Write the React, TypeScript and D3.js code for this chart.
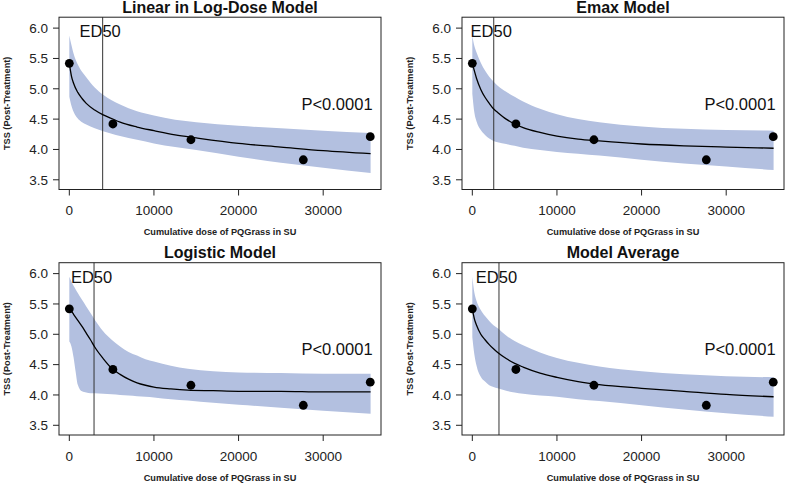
import React from "react";
import * as d3 from "d3";

// ---------- data ----------
const obsDose = [0, 5150, 14370, 27650, 35560];
const obsTSS = [5.42, 4.42, 4.16, 3.83, 4.21];

const xTickValues = [0, 10000, 20000, 30000];
const yTickValues = [3.5, 4.0, 4.5, 5.0, 5.5, 6.0];

const panelTitles = ["Linear in Log-Dose Model", "Emax Model", "Logistic Model", "Model Average"];
const ed50Values = [3940, 2530, 2920, 3150];
const pValueLabels = ["P<0.0001", "P<0.0001", "P<0.0001", "P<0.0001"];

const linDose = [0, 250, 500, 1000, 1500, 2000, 3000, 4000, 5000, 6000, 8000, 10000, 12500, 15000, 20000, 25000, 30000, 35600];
const linMean = [5.42, 5.21, 5.09, 4.94, 4.84, 4.76, 4.65, 4.57, 4.51, 4.45, 4.37, 4.31, 4.24, 4.19, 4.10, 4.04, 3.98, 3.93];
const linUpper = [5.88, 5.72, 5.58, 5.40, 5.28, 5.19, 5.02, 4.90, 4.81, 4.74, 4.63, 4.56, 4.49, 4.45, 4.39, 4.35, 4.31, 4.27];
const linLower = [4.87, 4.72, 4.62, 4.51, 4.45, 4.41, 4.35, 4.30, 4.26, 4.22, 4.16, 4.10, 4.04, 3.99, 3.88, 3.78, 3.70, 3.61];

const emaxDose = [0, 250, 500, 1000, 1500, 2000, 2500, 3000, 4000, 5000, 6000, 8000, 10000, 12500, 15000, 20000, 25000, 30000, 35600];
const emaxMean = [5.42, 5.29, 5.17, 4.99, 4.86, 4.76, 4.67, 4.61, 4.50, 4.42, 4.36, 4.28, 4.22, 4.17, 4.14, 4.09, 4.06, 4.04, 4.02];
const emaxUpper = [5.88, 5.70, 5.60, 5.43, 5.30, 5.20, 5.12, 5.05, 4.95, 4.87, 4.79, 4.67, 4.58, 4.50, 4.45, 4.38, 4.34, 4.32, 4.31];
const emaxLower = [4.92, 4.60, 4.46, 4.32, 4.24, 4.18, 4.14, 4.12, 4.09, 4.06, 4.03, 3.99, 3.96, 3.93, 3.90, 3.83, 3.77, 3.72, 3.66];

const logDose = [0, 250, 500, 750, 1000, 1500, 2000, 2500, 3000, 4000, 5000, 6000, 7000, 8000, 9000, 10000, 12000, 14000, 17000, 20000, 25000, 30000, 35600];
const logMean = [5.42, 5.38, 5.33, 5.28, 5.23, 5.13, 5.02, 4.91, 4.79, 4.60, 4.44, 4.34, 4.26, 4.20, 4.16, 4.13, 4.10, 4.08, 4.07, 4.06, 4.06, 4.05, 4.05];
const logUpper = [5.95, 5.87, 5.80, 5.74, 5.68, 5.57, 5.46, 5.35, 5.24, 5.05, 4.91, 4.80, 4.71, 4.65, 4.59, 4.55, 4.48, 4.43, 4.39, 4.37, 4.36, 4.35, 4.35];
const logLower = [4.88, 4.80, 4.62, 4.38, 4.17, 4.06, 4.04, 4.03, 4.03, 4.02, 4.01, 4.00, 3.99, 3.98, 3.97, 3.96, 3.93, 3.91, 3.87, 3.84, 3.79, 3.74, 3.69];

const avgDose = [0, 250, 500, 1000, 1500, 2000, 2500, 3000, 4000, 5000, 6000, 8000, 10000, 12500, 15000, 20000, 25000, 30000, 35600];
const avgMean = [5.42, 5.25, 5.15, 5.00, 4.91, 4.83, 4.76, 4.70, 4.60, 4.52, 4.46, 4.36, 4.29, 4.22, 4.17, 4.11, 4.06, 4.01, 3.97];
const avgUpper = [5.95, 5.68, 5.55, 5.40, 5.30, 5.22, 5.15, 5.10, 4.98, 4.89, 4.82, 4.70, 4.61, 4.53, 4.47, 4.39, 4.34, 4.31, 4.29];
const avgLower = [4.95, 4.66, 4.48, 4.30, 4.22, 4.16, 4.13, 4.11, 4.07, 4.04, 4.02, 3.99, 3.97, 3.93, 3.90, 3.83, 3.76, 3.70, 3.64];

const models = [
  { dose: linDose, mean: linMean, upper: linUpper, lower: linLower },
  { dose: emaxDose, mean: emaxMean, upper: emaxUpper, lower: emaxLower },
  { dose: logDose, mean: logMean, upper: logUpper, lower: logLower },
  { dose: avgDose, mean: avgMean, upper: avgUpper, lower: avgLower },
];

// ---------- layout ----------
const W = 787;
const H = 483;
const FONT = "'Liberation Sans', Arial, Helvetica, sans-serif";
const BAND = "#b3c0e0";
const boxW = 322;
const boxH = 172.3;
const boxLefts = [59, 462];
const boxTops = [17.2, 262.7];

function Panel({ idx }: { idx: number }) {
  const left = boxLefts[idx % 2];
  const top = boxTops[Math.floor(idx / 2)];
  const m = models[idx];
  const x = d3.scaleLinear().domain([-1220, 36830]).range([left, left + boxW]);
  const y = d3.scaleLinear().domain([3.34, 6.18]).range([top + boxH, top]);
  const pts = m.dose.map((d, i) => ({ d, mean: m.mean[i], up: m.upper[i], lo: m.lower[i] }));
  const area = d3
    .area<any>()
    .x((p) => x(p.d))
    .y0((p) => y(p.lo))
    .y1((p) => y(p.up))
    .curve(d3.curveMonotoneX);
  const line = d3
    .line<any>()
    .x((p) => x(p.d))
    .y((p) => y(p.mean))
    .curve(d3.curveMonotoneX);
  const cx = left + boxW / 2;
  const ed = x(ed50Values[idx]);
  return (
    <g>
      <path d={area(pts) || ""} fill={BAND} stroke="none" />
      <line x1={ed} x2={ed} y1={top} y2={top + boxH} stroke="#333" strokeWidth={1} />
      <path d={line(pts) || ""} fill="none" stroke="#000" strokeWidth={1.3} />
      {obsDose.map((d, i) => (
        <circle key={i} cx={x(d)} cy={y(obsTSS[i])} r={4.4} fill="#000" />
      ))}
      <rect x={left} y={top} width={boxW} height={boxH} fill="none" stroke="#222" strokeWidth={1} />
      {/* y axis */}
      {yTickValues.map((v) => (
        <g key={v}>
          <line x1={left - 6} x2={left} y1={y(v)} y2={y(v)} stroke="#222" />
          <text x={left - 11} y={y(v) + 4.8} fontSize={13.5} textAnchor="end" fontFamily={FONT} fill="#222">
            {v.toFixed(1)}
          </text>
        </g>
      ))}
      {/* x axis */}
      {xTickValues.map((v) => (
        <g key={v}>
          <line x1={x(v)} x2={x(v)} y1={top + boxH} y2={top + boxH + 6} stroke="#222" />
          <text x={x(v)} y={top + boxH + 25.5} fontSize={13.5} textAnchor="middle" fontFamily={FONT} fill="#222">
            {v}
          </text>
        </g>
      ))}
      <text x={cx} y={top - 4.6} fontSize={16} fontWeight="bold" textAnchor="middle" fontFamily={FONT} fill="#111">
        {panelTitles[idx]}
      </text>
      <text x={cx} y={top + boxH + 45.5} fontSize={9.2} fontWeight="bold" textAnchor="middle" fontFamily={FONT} fill="#222">
        Cumulative dose of PQGrass in SU
      </text>
      <text
        transform={`translate(${left - 49.5},${top + boxH / 2}) rotate(-90)`}
        fontSize={9.2}
        fontWeight="bold"
        textAnchor="middle"
        fontFamily={FONT}
        fill="#222"
      >
        TSS (Post-Treatment)
      </text>
      <text x={ed - 2.5} y={y(5.95) + 6} fontSize={16.5} textAnchor="middle" fontFamily={FONT} fill="#111">
        ED50
      </text>
      <text x={x(35600) + 2} y={y(4.75) + 6} fontSize={16.5} textAnchor="end" fontFamily={FONT} fill="#111">
        {pValueLabels[idx]}
      </text>
    </g>
  );
}

export default function App() {
  return (
    <svg
      width={W}
      height={H}
      viewBox={`0 0 ${W} ${H}`}
      style={{ position: "absolute", left: 0, top: 0, background: "#fff" }}
    >
      <rect x={0} y={0} width={W} height={H} fill="#fff" />
      {[0, 1, 2, 3].map((i) => (
        <Panel key={i} idx={i} />
      ))}
    </svg>
  );
}
